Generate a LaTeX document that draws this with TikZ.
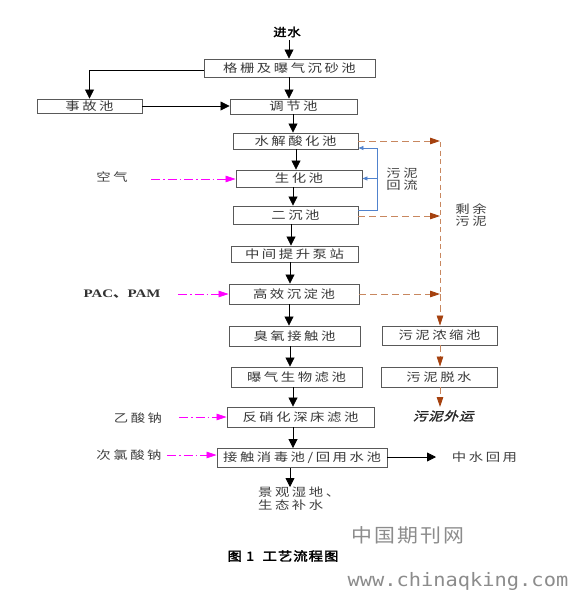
\documentclass[tikz,border=0pt]{standalone}
\usepackage{fontspec}
\setmainfont{Liberation Serif}
\newfontfamily\cjk[FakeStretch=1.25,LetterSpace=22]{Noto Sans CJK SC}
\newfontfamily\cjkbd[FakeStretch=1.15,FakeBold=2.5,LetterSpace=8]{Noto Sans CJK SC}
\newfontfamily\cjkit[FakeStretch=1.2,FakeSlant=0.3,FakeBold=1.5,LetterSpace=8]{Noto Sans CJK SC}
\newfontfamily\cjkwm[FakeStretch=1.1,LetterSpace=12]{Noto Sans CJK SC}
\newfontfamily\wmmono[FakeStretch=1.1]{DejaVu Sans Mono}
\newfontfamily\lat[FakeStretch=1.3]{Liberation Serif}
\usetikzlibrary{arrows.meta}
\definecolor{slc}{RGB}{200,135,95}
\definecolor{slh}{RGB}{165,65,15}
\definecolor{blc}{RGB}{80,130,205}
\definecolor{mag}{RGB}{255,0,255}
\begin{document}
\begin{tikzpicture}[x=1pt,y=-1pt,
  box/.style={draw=black!65, line width=0.9pt, fill=white, inner sep=0pt,
    font=\cjk\fontsize{11.5}{13}\selectfont, text=black!78},
  lab/.style={inner sep=0pt, font=\cjk\fontsize{11.5}{12.5}\selectfont, text=black!75},
  arr/.style={line width=0.8pt, black, -{Triangle[length=9pt,width=9pt]}},
  sl/.style={line width=0.8pt, slc, dash pattern=on 7pt off 4pt, -{Triangle[length=10pt,width=6.5pt,color=slh]}},
  slv/.style={line width=0.8pt, slc, dash pattern=on 5pt off 3.5pt},
  blu/.style={line width=0.8pt, blc, -{Triangle[length=5pt,width=4pt]}},
  mg/.style={line width=0.8pt, mag, dash pattern=on 9pt off 3pt on 1.5pt off 3pt, -{Triangle[length=10pt,width=6.5pt]}}
]
\fill[white] (0,0) rectangle (572,592);
\useasboundingbox (0,0) rectangle (572,592);

% main column boxes
\node[box, minimum width=171pt, minimum height=18pt] (gs) at (289.5,68) {格栅及曝气沉砂池};
\node[box, minimum width=105pt, minimum height=14pt] (sg) at (89.5,106) {事故池};
\node[box, minimum width=127pt, minimum height=15pt] (tj) at (293.5,106.5) {调节池};
\node[box, minimum width=125pt, minimum height=16pt] (sj) at (295.5,141) {水解酸化池};
\node[box, minimum width=126pt, minimum height=17pt] (sh) at (299,178.5) {生化池};
\node[box, minimum width=125pt, minimum height=18pt] (ec) at (295.5,215) {二沉池};
\node[box, minimum width=127pt, minimum height=16pt] (zj) at (294.5,254) {中间提升泵站};
\node[box, minimum width=130pt, minimum height=20pt] (gx) at (294,294) {高效沉淀池};
\node[box, minimum width=131pt, minimum height=20pt] (cy) at (294.5,336) {臭氧接触池};
\node[box, minimum width=131pt, minimum height=20pt] (bq) at (296.5,377) {曝气生物滤池};
\node[box, minimum width=147pt, minimum height=20pt] (fx) at (300.5,417) {反硝化深床滤池};
\node[box, minimum width=170pt, minimum height=19pt] (jc) at (302,458) {接触消毒池/回用水池};
% sludge boxes
\node[box, minimum width=115pt, minimum height=19pt] (ns) at (439.5,335.5) {污泥浓缩池};
\node[box, minimum width=116pt, minimum height=20pt] (ts) at (439,377) {污泥脱水};

% top input
\node[inner sep=0pt, font=\cjkbd\fontsize{11.5}{13}\selectfont] (js) at (287,32) {进水};
\coordinate (x289) at (289,0);
\draw[arr] ([yshift=-3pt]js.south -| x289) -- (gs.north -| x289);

% vertical main links
\newcommand\vlink[3]{\coordinate (vl) at (#3,0); \draw[arr] (#1.south -| vl) -- (#2.north -| vl);}
\vlink{gs}{tj}{289}
\vlink{tj}{sj}{293}
\vlink{sj}{sh}{296}
\vlink{sh}{ec}{293}
\vlink{ec}{zj}{291}
\vlink{zj}{gx}{290}
\vlink{gx}{cy}{289}
\vlink{cy}{bq}{290}
\vlink{bq}{fx}{293}
\vlink{fx}{jc}{293}

% accident tank branch
\draw[arr] ([yshift=-2pt]gs.west) -| (sg.north);
\draw[arr] (sg.east) -- (sg.east -| tj.west);

% outputs
\node[lab, align=left, anchor=north west] (jg) at (258,487) {景观湿地、\\生态补水};
\coordinate (x290) at (290,0);
\draw[arr] (jc.south -| x290) -- (jg.north -| x290);
\coordinate (zs0) at (436,457);
\draw[arr] (jc.east |- zs0) -- (zs0);
\node[lab] (zs) at (484.5,457) {中水回用};

% chemical inputs
\node[lab] (kq) at (112,177) {空气};
\coordinate (kq0) at (151,179);
\draw[mg] (kq0) -- (kq0 -| sh.west);
\node[inner sep=0pt, font=\lat\bfseries\fontsize{11.5}{13}\selectfont, text=black!80] (pac) at (122,294) {PAC{\cjk 、}PAM};
\coordinate (pac0) at (178,294);
\draw[mg] (pac0) -- (pac0 -| gx.west);
\node[lab] (ys) at (138,418) {乙酸钠};
\coordinate (ys0) at (179,417);
\draw[mg] (ys0) -- (ys0 -| fx.west);
\node[lab] (cl) at (129,455) {次氯酸钠};
\coordinate (cl0) at (167,455);
\draw[mg] (cl0) -- (cl0 -| jc.west);

% sludge return (blue)
\coordinate (b1) at (377,148);
\coordinate (b2) at (377,210);
\draw[blu] (ec.east |- b2) -- (b2) -- (b1) -- (b1 -| sj.east);
\draw[blu] (b1 |- sh.east) -- (sh.east);
\node[lab, align=center] (hl) at (402,179) {污泥\\回流};

% excess sludge (brown)
\coordinate (bx) at (440,142);
\draw[sl] (sj.east) -- (sj.east -| bx);
\draw[sl] ([yshift=-1pt]ec.east) -- ([yshift=-1pt]ec.east -| bx);
\draw[sl] (gx.east) -- (gx.east -| bx);
\draw[slv] (bx) -- (bx |- gx.east);
\draw[sl] (bx |- gx.east) -- (bx |- ns.north);
\draw[sl] (ns.south -| bx) -- (ts.north -| bx);
\coordinate (wy0) at (440,407);
\draw[sl] (ts.south -| bx) -- (wy0);
\node[inner sep=0pt, font=\cjkit\fontsize{12}{13}\selectfont, text=black!85] (wy) at (443,416) {污泥外运};
\node[lab, align=center] (sy) at (471,215) {剩余\\污泥};

% caption and watermarks
\node[inner sep=0pt, font=\cjkbd\fontsize{12.5}{14}\selectfont] (cap) at (283,556) {图 1\ \ 工艺流程图};
\node[inner sep=0pt, font=\cjkwm\fontsize{19}{21}\selectfont, text=black!45] (wm1) at (408,535) {中国期刊网};
\node[inner sep=0pt, font=\wmmono\fontsize{18.5}{21}\selectfont, text=black!45] (wm2) at (458,581) {www.chinaqking.com};
\end{tikzpicture}
\end{document}
